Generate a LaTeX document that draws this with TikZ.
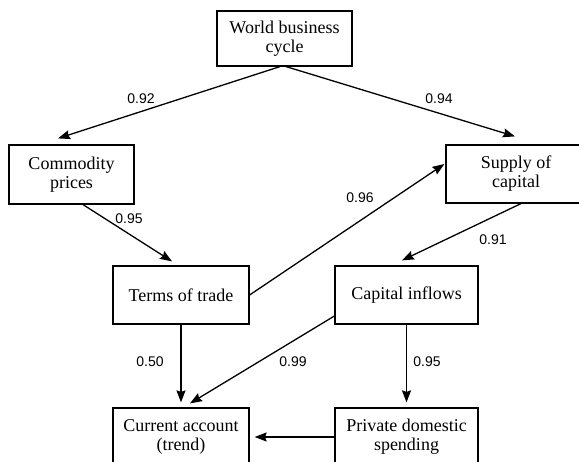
\documentclass[tikz,border=0pt]{standalone}
\usepackage{fontspec}
\setmainfont{Liberation Serif}
\newfontfamily\labelfont{Liberation Sans}
\usetikzlibrary{arrows.meta}
\begin{document}
\begin{tikzpicture}[x=1pt,y=-1pt,
  box/.style={draw, line width=1.2pt, rectangle, inner sep=0pt, align=center, font=\fontsize{18}{19}\selectfont},
  lbl/.style={font=\labelfont\fontsize{14}{16}\selectfont, inner sep=0pt},
  arr/.style={line width=1.3pt, -{Stealth[length=12pt,width=9pt,inset=1.5pt]}}]
\clip (0,0) rectangle (579,462);
\node[box, minimum width=135pt, minimum height=55pt] (wbc) at (284.5,38.5) {World business\\cycle};
\node[box, minimum width=125pt, minimum height=59pt] (com) at (71.5,174.5) {Commodity\\prices};
\node[box, minimum width=140pt, minimum height=58pt] (sup) at (516,174) {Supply of\\capital};
\node[box, minimum width=136pt, minimum height=58pt] (tot) at (181,295) {Terms of trade};
\node[box, minimum width=143pt, minimum height=58pt] (cap) at (406.5,295) {Capital inflows};
\node[box, minimum width=136pt, minimum height=58pt] (cur) at (181,437) {Current account\\(trend)};
\node[box, minimum width=143pt, minimum height=58pt] (pds) at (406.5,437) {Private domestic\\spending};

\draw[arr] ([xshift=-4.5pt]wbc.south) -- ([xshift=-13.5pt,yshift=6pt]com.north);
\draw[arr] ([xshift=1.5pt]wbc.south) -- ([xshift=-1pt,yshift=8pt]sup.north);
\draw[arr] ([xshift=11.5pt]com.south) -- ([xshift=-9pt,yshift=4pt]tot.north);
\draw[arr] (tot.east) -- ([xshift=-1pt,yshift=10pt]sup.west);
\draw[arr] ([xshift=5pt]sup.south) -- ([xshift=-4.5pt,yshift=5pt]cap.north);
\draw[arr] ([yshift=-21pt]cap.west) -- ([xshift=9pt,yshift=4pt]cur.north);
\draw[arr] (tot.south) -- ([yshift=5pt]cur.north);
\draw[arr] (cap.south) -- ([yshift=5pt]pds.north);
\draw[arr] (pds.west) -- ([xshift=5pt]cur.east);

\node[lbl] (l1) at (141,99) {0.92};
\node[lbl] (l2) at (439,99) {0.94};
\node[lbl] (l3) at (129,219) {0.95};
\node[lbl] (l4) at (360,198) {0.96};
\node[lbl] (l5) at (493,240) {0.91};
\node[lbl] (l6) at (150,362) {0.50};
\node[lbl] (l7) at (293,362) {0.99};
\node[lbl] (l8) at (427,362) {0.95};
\end{tikzpicture}
\end{document}
